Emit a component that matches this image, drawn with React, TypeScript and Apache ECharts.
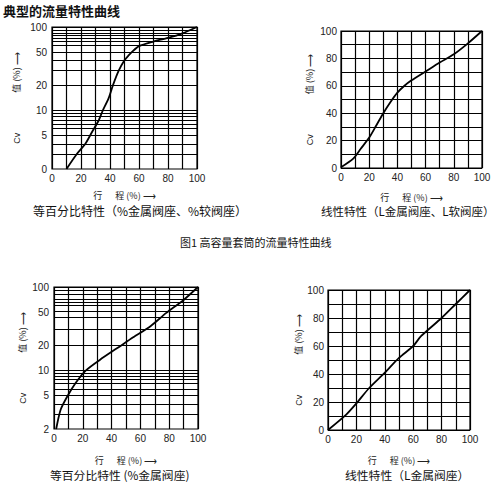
import React, { useEffect, useRef } from 'react'
import * as echarts from 'echarts'

// travel (%) vs Cv (%)
const eqMetalSoftTravel = [10, 17, 23, 28, 32, 35, 39, 42, 46, 50, 53, 55, 60, 70, 80, 90, 100]
const eqMetalSoftCv = [2, 3, 4, 5.7, 7.5, 10, 14, 20, 30, 40, 46, 50, 59, 67, 74, 84, 100]

const linMetalSoftTravel = [0, 8.7, 14, 20.5, 25, 30, 35, 40, 45, 50, 60, 70, 80, 90, 100]
const linMetalSoftCv = [0.5, 6.8, 14, 23, 31, 40, 48, 55, 60, 64, 70.5, 77, 83, 91, 100]

const eqMetalTravel = [1.5, 4.6, 9.2, 15, 22, 32, 44, 55, 67, 78, 90, 100]
const eqMetalCv = [2, 3.4, 4.9, 7.1, 10, 13.5, 18.6, 25, 34, 49, 70, 100]

const linMetalTravel = [0, 13, 20, 29, 40, 50, 60, 65.5, 80, 90, 100]
const linMetalCv = [0, 11.2, 19, 30, 41, 51.5, 60, 67, 80, 90, 100]

// horizontal rules of the two log-scale sheets
const logRulesTop = [100, 91, 85, 80, 74, 67, 61, 50, 40, 30, 20, 10, 9.3, 8.5, 7.7, 6.9, 6.1, 5, 4, 3]
const logRulesBottom = [100, 91, 81, 72, 66, 60, 51, 43, 31, 20, 10, 9.2, 8.5, 7.8, 7.1, 6, 5, 4, 3]
const logLabels = [2, 5, 10, 20, 50, 100]

const pageTitle = '典型的流量特性曲线'
const figureCaption = '图1 高容量套筒的流量特性曲线'
const captions = [
  '等百分比特性（%金属阀座、%较阀座）',
  '线性特性（L金属阀座、L软阀座）',
  '等百分比特性 (%金属阀座)',
  '线性特性（L金属阀座）'
]

const NUM_FONT = "'Liberation Sans', Arial, 'Noto Sans CJK SC', sans-serif"
const CJK_FONT = "'Noto Sans CJK SC', 'Liberation Sans', sans-serif"

const zip = (xs: number[], ys: number[]) => xs.map((x, i) => [x, ys[i]])

const gridLine = { color: '#000', width: 1.2 }

const yName = {
  name: '{a|Cv}{b|值 (%) ⟶}',
  nameLocation: 'middle',
  nameRotate: 90,
  nameTextStyle: {
    fontSize: 9,
    color: '#222',
    fontFamily: CJK_FONT,
    rich: {
      a: { fontSize: 9, fontFamily: NUM_FONT, color: '#222', padding: [0, 40, 0, 0] },
      b: { fontSize: 9, fontFamily: CJK_FONT, color: '#222' }
    }
  }
}

const xAxisFor = (gridIndex: number, nameGap: number) => ({
  gridIndex,
  type: 'value',
  min: 0,
  max: 100,
  interval: 10,
  axisLine: { show: false },
  axisTick: { show: false },
  splitLine: { show: true, lineStyle: gridLine },
  axisLabel: {
    fontSize: 10,
    color: '#222',
    margin: 4,
    fontFamily: NUM_FONT,
    formatter: (v: number) => (v % 20 === 0 ? String(v) : '')
  },
  name: '{a|行}{b|程 (%) ⟶}',
  nameLocation: 'middle',
  nameGap,
  nameTextStyle: {
    fontSize: 9,
    color: '#222',
    rich: {
      a: { fontSize: 9, fontFamily: CJK_FONT, color: '#222', padding: [0, 13, 0, 0] },
      b: { fontSize: 9, fontFamily: CJK_FONT, color: '#222' }
    }
  }
})

const linYAxis = (gridIndex: number, nameGap: number) => ({
  gridIndex,
  type: 'value',
  min: 0,
  max: 100,
  interval: 10,
  axisLine: { show: false },
  axisTick: { show: false },
  splitLine: { show: true, lineStyle: gridLine },
  axisLabel: {
    fontSize: 10,
    color: '#222',
    margin: 4,
    fontFamily: NUM_FONT,
    formatter: (v: number) => (v % 20 === 0 ? String(v) : '')
  },
  nameGap,
  ...yName
})

const logYAxis = (gridIndex: number, nameGap: number, zeroAtMin: boolean) => ({
  gridIndex,
  type: 'log',
  logBase: 10,
  min: 2,
  max: 100,
  axisLine: { show: false },
  axisTick: { show: false },
  splitLine: { show: false },
  axisLabel: {
    fontSize: 10,
    color: '#222',
    margin: 5,
    fontFamily: NUM_FONT,
    customValues: logLabels,
    formatter: (v: number) => (zeroAtMin && Math.abs(v - 2) < 0.01 ? '0' : String(Math.round(v)))
  },
  nameGap,
  ...yName
})

const rules = (vals: number[]) => ({
  silent: true,
  symbol: ['none', 'none'],
  label: { show: false },
  lineStyle: { ...gridLine, type: 'solid' },
  data: vals.map(v => ({ yAxis: v }))
})

const curve = (idx: number, data: number[][], markLine?: any) => ({
  type: 'line',
  xAxisIndex: idx,
  yAxisIndex: idx,
  data,
  showSymbol: false,
  smooth: 0.25,
  lineStyle: { color: '#000', width: 1.8 },
  z: 5,
  markLine
})

const captionStyle = { fontSize: 12, fontWeight: 'normal', color: '#111', fontFamily: CJK_FONT }

const App: React.FC = () => {
  const chartRef = useRef<HTMLDivElement>(null)

  useEffect(() => {
    if (!chartRef.current) return
    const chart = echarts.init(chartRef.current, null, { renderer: 'svg' })

    const gridBase = { show: true, borderColor: '#000', borderWidth: 1.2, containLabel: false, outerBoundsMode: 'none' }

    const option: any = {
      animation: false,
      textStyle: { fontFamily: NUM_FONT },
      title: [
        { text: pageTitle, left: 3, top: 4, padding: 0, textStyle: { fontSize: 13, fontWeight: 'bold', color: '#111', fontFamily: CJK_FONT } },
        { text: captions[0], left: 33, top: 204, padding: 0, textStyle: captionStyle },
        { text: captions[1], left: 321, top: 205, padding: 0, textStyle: { ...captionStyle, fontSize: 11.5 } },
        { text: figureCaption, left: 180, top: 236, padding: 0, textStyle: { ...captionStyle, fontSize: 11 } },
        { text: captions[2], left: 50, top: 469, padding: 0, textStyle: { ...captionStyle, fontSize: 11.8 } },
        { text: captions[3], left: 345, top: 469, padding: 0, textStyle: { ...captionStyle, fontSize: 11.8 } }
      ],
      grid: [
        { ...gridBase, left: 52, top: 27, width: 145, height: 142 },
        { ...gridBase, left: 341, top: 31, width: 141, height: 137 },
        { ...gridBase, left: 54, top: 287, width: 144, height: 142 },
        { ...gridBase, left: 328, top: 290, width: 142, height: 140 }
      ],
      xAxis: [xAxisFor(0, 22), xAxisFor(1, 25), xAxisFor(2, 27), xAxisFor(3, 26)],
      yAxis: [logYAxis(0, 31, true), linYAxis(1, 27), logYAxis(2, 27, false), linYAxis(3, 25)],
      series: [
        curve(0, zip(eqMetalSoftTravel, eqMetalSoftCv), rules(logRulesTop)),
        curve(1, zip(linMetalSoftTravel, linMetalSoftCv)),
        curve(2, zip(eqMetalTravel, eqMetalCv), rules(logRulesBottom)),
        curve(3, zip(linMetalTravel, linMetalCv))
      ]
    }

    chart.setOption(option)

    return () => {
      chart.dispose()
    }
  }, [])

  return (
    <div
      ref={chartRef}
      style={{ position: 'fixed', left: 0, top: 0, width: 500, height: 489, background: '#fff' }}
    />
  )
}

export default App
